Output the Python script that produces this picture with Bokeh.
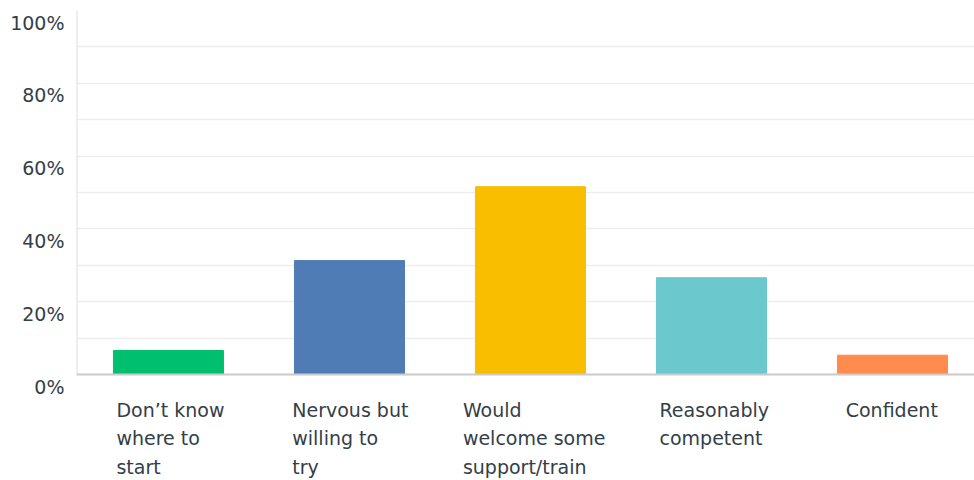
from bokeh.plotting import figure
from bokeh.models import (ColumnDataSource, FixedTicker, Range1d, LinearAxis, Grid, Span,
                          PrintfTickFormatter)
from bokeh.core.properties import value
from bokeh.embed import file_html
from bokeh.resources import INLINE

categories = ["Don\u2019t know\nwhere to\nstart", "Nervous but\nwilling to\ntry",
              "Would\nwelcome some\nsupport/train", "Reasonably\ncompetent", "Confident"]
values = [6.6, 31.3, 51.6, 26.6, 5.3]
colors = ["#00bf6f", "#507cb6", "#f9be00", "#6bc8cd", "#ff8b4f"]
y_ticks = [0, 20, 40, 60, 80, 100]
grid_ticks = [0, 10, 20, 30, 40, 50, 60, 70, 80, 90, 100]

FONT = "DejaVu Sans"
TEXT_COLOR = "#333e48"

# layout constants (pixels)
W, H = 974, 480
LEFT, TOP = 76, 10
PLOT_H = 364           # height of the 0..100% band
PX = PLOT_H / 100.0    # pixels per percent
Y_START = -(H - TOP - PLOT_H) / PX   # room for category labels below 0
LABEL_SHIFT = 12 / PX                # y tick labels sit just below their grid line
X_START, X_END = -0.508, len(categories) - 1 + 0.453

xs = list(range(len(categories)))
src = ColumnDataSource(dict(x=xs, top=values, color=colors))

p = figure(width=W, height=H, output_backend="svg", toolbar_location=None,
           x_range=Range1d(X_START, X_END), y_range=Range1d(Y_START, 100),
           x_axis_location=None, y_axis_location=None,
           min_border_left=LEFT, min_border_right=0, min_border_top=TOP, min_border_bottom=0)
p.outline_line_color = None
p.background_fill_color = "white"
p.xgrid.grid_line_color = None
p.ygrid.grid_line_color = None

# horizontal grid every 10%
p.add_layout(Grid(dimension=1, ticker=FixedTicker(ticks=grid_ticks),
                  grid_line_color="#eeeeee", grid_line_width=1.5))

# y axis labels (on a range shifted so labels sit below their grid line)
p.extra_y_ranges = {"lbl": Range1d(Y_START + LABEL_SHIFT, 100 + LABEL_SHIFT)}
yax = LinearAxis(y_range_name="lbl", ticker=FixedTicker(ticks=y_ticks),
                 formatter=PrintfTickFormatter(format="%d%%"))
yax.axis_line_color = None
yax.major_tick_line_color = None
yax.minor_tick_line_color = None
yax.major_label_text_font = FONT
yax.major_label_text_font_size = "19px"
yax.major_label_text_color = TEXT_COLOR
yax.major_label_standoff = 6
p.add_layout(yax, "left")

# axis lines
p.segment(x0=[X_START], y0=[0], x1=[X_START], y1=[100], line_color="#dddddd", line_width=2)
p.add_layout(Span(location=0, dimension="width", line_color="#cccccc", line_width=2))

p.vbar(x="x", top="top", bottom=0, width=0.608, color="color", source=src)

# category labels: left-aligned lines, block roughly centred under each bar
lx, lt, lxo, lyo = [], [], [], []
for i, cat in enumerate(categories):
    lines = cat.split("\n")
    half = max(len(s) for s in lines) * 5.2
    for j, line in enumerate(lines):
        lx.append(i)
        lt.append(line)
        lxo.append(-half)
        lyo.append(35 + 28.5 * j)
lsrc = ColumnDataSource(dict(x=lx, y=[0] * len(lx), text=lt, xo=lxo, yo=lyo))
p.text(x="x", y="y", text="text", x_offset="xo", y_offset="yo", source=lsrc,
       text_font=value(FONT), text_font_size="19px", text_color=TEXT_COLOR,
       text_align="left", text_baseline="alphabetic")

open("out.html", "w").write(file_html(p, INLINE))
